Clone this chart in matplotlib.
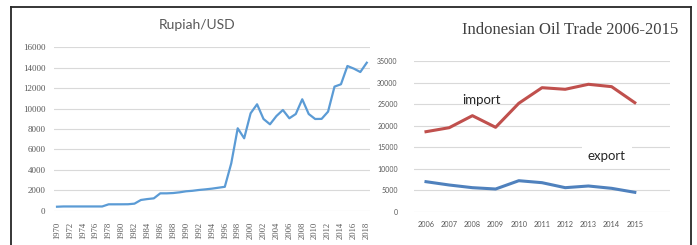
import matplotlib

matplotlib.use("Agg")
import matplotlib.pyplot as plt
from matplotlib.lines import Line2D

# Rupiah per USD, 1970-2018
rupiah_years = list(range(1970, 2019))
rupiah_values = [
    390, 415, 415, 415, 415, 415, 415, 415, 625, 625,
    627, 632, 690, 1050, 1140, 1210, 1700, 1700, 1730, 1800,
    1900, 1950, 2030, 2090, 2160, 2250, 2340, 4640, 8070, 7090,
    9540, 10420, 8980, 8460, 9270, 9860, 9050, 9470, 10910, 9470,
    8980, 8990, 9700, 12150, 12380, 14170, 13910, 13580, 14490,
]

# oil trade 2006-2015
trade_years = ["2006", "2007", "2008", "2009", "2010", "2011", "2012", "2013", "2014", "2015"]
oil_import = [18580, 19510, 22300, 19600, 25180, 28800, 28430, 29590, 29040, 25320]
oil_export = [6970, 6200, 5580, 5270, 7200, 6740, 5580, 5970, 5430, 4500]

W, H = 697, 245
fig = plt.figure(figsize=(W / 100, H / 100), dpi=100)
fig.patch.set_facecolor("white")

grid_col = "#d9d9d9"
tick_col = "#595959"


def clean(ax):
    for s in ax.spines.values():
        s.set_visible(False)
    ax.tick_params(length=0, colors=tick_col)
    ax.grid(axis="y", color=grid_col, linewidth=0.8)
    ax.set_axisbelow(True)


# left panel
ax1 = fig.add_axes([53.8 / W, 1 - 210.7 / H, (370 - 53.8) / W, 163.4 / H])
clean(ax1)
ax1.plot(rupiah_years, rupiah_values, color="#5b9bd5", linewidth=1.6, solid_joinstyle="round")
ax1.set_xlim(1969.5, 2018.5)
ax1.set_ylim(0, 16000)
ax1.set_yticks(range(0, 16001, 2000))
ax1.set_xticks(rupiah_years[::2])
ax1.set_xticklabels([str(y) for y in rupiah_years[::2]], rotation=90,
                    fontsize=6.2, family="Liberation Serif", color=tick_col)
for lab in ax1.get_yticklabels():
    lab.set_fontsize(6.5)
    lab.set_family("Liberation Serif")
ax1.tick_params(axis="x", pad=8)
ax1.tick_params(axis="y", pad=6)
fig.text(197 / W, 1 - 25 / H, "Rupiah/USD", ha="center", va="center",
         fontsize=10, family="Lato", color=tick_col)

# right panel
ax2 = fig.add_axes([414.4 / W, 1 - 211.7 / H, 255.2 / W, 150.7 / H])
clean(ax2)
xs = range(len(trade_years))
ax2.plot(xs, oil_import, color="#c0504d", linewidth=2.2, solid_joinstyle="round")
ax2.plot(xs, oil_export, color="#4f81bd", linewidth=2.2, solid_joinstyle="round")
ax2.set_xlim(-0.5, 10.5)
ax2.set_ylim(0, 35000)
ax2.set_yticks(range(0, 35001, 5000))
ax2.set_xticks(list(xs))
ax2.set_xticklabels(trade_years, fontsize=5.3, family="Lato", color=tick_col)
for lab in ax2.get_yticklabels():
    lab.set_fontsize(5.0)
    lab.set_family("Lato")
ax2.tick_params(axis="x", pad=7)
ax2.tick_params(axis="y", pad=12)
ax2.text(2.4, 25900, "import", ha="center", va="center", fontsize=9.5,
         family="Lato", color="#262626")
ax2.text(7.8, 12900, "export", ha="center", va="center", fontsize=9.5,
         family="Lato", color="#262626",
         bbox=dict(facecolor="white", edgecolor="none", pad=4))
fig.text(570 / W, 1 - 30 / H, "Indonesian Oil Trade 2006-2015", ha="center", va="center",
         fontsize=12, family="Liberation Serif", color="#404040")

# outer frame
frame = dict(color="#262626", linewidth=1.3, transform=fig.transFigure)
fig.add_artist(Line2D([11 / W, 11 / W], [0, 1 - 7 / H], **frame))
fig.add_artist(Line2D([11 / W, 691 / W], [1 - 7 / H, 1 - 7 / H], **frame))
fig.add_artist(Line2D([691 / W, 691 / W], [0, 1 - 7 / H], **frame))

fig.savefig("out.png", dpi=100)
